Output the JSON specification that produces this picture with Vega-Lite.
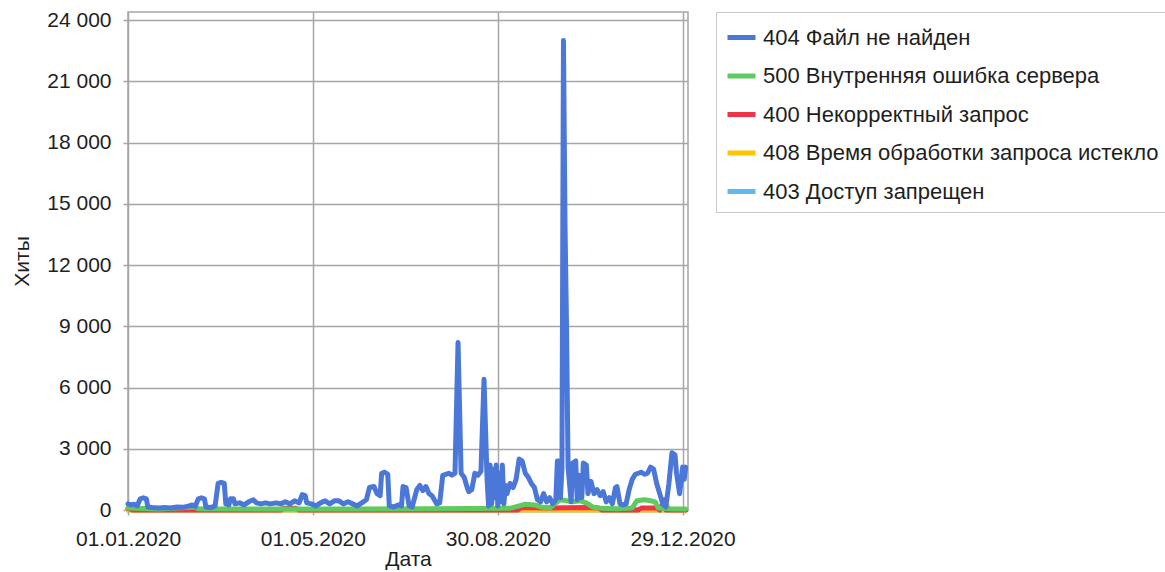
{
  "$schema": "https://vega.github.io/schema/vega-lite/v6.json",
  "width": 560,
  "height": 498,
  "autosize": {"type": "none"},
  "padding": {"left": 128, "top": 12, "right": 477, "bottom": 62},
  "background": "white",
  "config": {
    "font": "Liberation Sans",
    "view": {"stroke": "#a6a6a6", "strokeWidth": 1.5}
  },
  "data": {
    "values": [
      {"d": "2020-01-01", "s": "403 Доступ запрещен", "v": 0},
      {"d": "2020-12-31", "s": "403 Доступ запрещен", "v": 0},
      {"d": "2020-01-01", "s": "408 Время обработки запроса истекло", "v": 0},
      {"d": "2020-12-18", "s": "408 Время обработки запроса истекло", "v": 0},
      {"d": "2020-12-19", "s": "408 Время обработки запроса истекло", "v": 200},
      {"d": "2020-12-20", "s": "408 Время обработки запроса истекло", "v": 0},
      {"d": "2020-12-31", "s": "408 Время обработки запроса истекло", "v": 0},
      {"d": "2020-01-01", "s": "400 Некорректный запрос", "v": 80},
      {"d": "2020-01-04", "s": "400 Некорректный запрос", "v": 0},
      {"d": "2020-04-10", "s": "400 Некорректный запрос", "v": 0},
      {"d": "2020-04-12", "s": "400 Некорректный запрос", "v": 80},
      {"d": "2020-04-20", "s": "400 Некорректный запрос", "v": 80},
      {"d": "2020-04-22", "s": "400 Некорректный запрос", "v": 0},
      {"d": "2020-09-12", "s": "400 Некорректный запрос", "v": 0},
      {"d": "2020-09-14", "s": "400 Некорректный запрос", "v": 120},
      {"d": "2020-10-02", "s": "400 Некорректный запрос", "v": 100},
      {"d": "2020-10-27", "s": "400 Некорректный запрос", "v": 120},
      {"d": "2020-11-04", "s": "400 Некорректный запрос", "v": 100},
      {"d": "2020-11-06", "s": "400 Некорректный запрос", "v": 0},
      {"d": "2020-11-30", "s": "400 Некорректный запрос", "v": 0},
      {"d": "2020-12-02", "s": "400 Некорректный запрос", "v": 100},
      {"d": "2020-12-12", "s": "400 Некорректный запрос", "v": 100},
      {"d": "2020-12-14", "s": "400 Некорректный запрос", "v": 0},
      {"d": "2020-12-17", "s": "400 Некорректный запрос", "v": 500},
      {"d": "2020-12-18", "s": "400 Некорректный запрос", "v": 0},
      {"d": "2020-12-31", "s": "400 Некорректный запрос", "v": 0},
      {"d": "2020-01-01", "s": "500 Внутренняя ошибка сервера", "v": 100},
      {"d": "2020-01-21", "s": "500 Внутренняя ошибка сервера", "v": 50},
      {"d": "2020-02-14", "s": "500 Внутренняя ошибка сервера", "v": 150},
      {"d": "2020-02-16", "s": "500 Внутренняя ошибка сервера", "v": 60},
      {"d": "2020-04-10", "s": "500 Внутренняя ошибка сервера", "v": 50},
      {"d": "2020-05-30", "s": "500 Внутренняя ошибка сервера", "v": 50},
      {"d": "2020-07-19", "s": "500 Внутренняя ошибка сервера", "v": 60},
      {"d": "2020-09-07", "s": "500 Внутренняя ошибка сервера", "v": 80},
      {"d": "2020-09-13", "s": "500 Внутренняя ошибка сервера", "v": 200},
      {"d": "2020-09-17", "s": "500 Внутренняя ошибка сервера", "v": 280},
      {"d": "2020-09-23", "s": "500 Внутренняя ошибка сервера", "v": 250},
      {"d": "2020-09-27", "s": "500 Внутренняя ошибка сервера", "v": 150},
      {"d": "2020-10-03", "s": "500 Внутренняя ошибка сервера", "v": 100},
      {"d": "2020-10-07", "s": "500 Внутренняя ошибка сервера", "v": 350},
      {"d": "2020-10-10", "s": "500 Внутренняя ошибка сервера", "v": 500},
      {"d": "2020-10-14", "s": "500 Внутренняя ошибка сервера", "v": 450},
      {"d": "2020-10-18", "s": "500 Внутренняя ошибка сервера", "v": 400},
      {"d": "2020-10-23", "s": "500 Внутренняя ошибка сервера", "v": 450},
      {"d": "2020-10-27", "s": "500 Внутренняя ошибка сервера", "v": 350},
      {"d": "2020-10-31", "s": "500 Внутренняя ошибка сервера", "v": 150},
      {"d": "2020-11-06", "s": "500 Внутренняя ошибка сервера", "v": 80},
      {"d": "2020-11-16", "s": "500 Внутренняя ошибка сервера", "v": 60},
      {"d": "2020-11-26", "s": "500 Внутренняя ошибка сервера", "v": 100},
      {"d": "2020-11-29", "s": "500 Внутренняя ошибка сервера", "v": 450},
      {"d": "2020-12-04", "s": "500 Внутренняя ошибка сервера", "v": 500},
      {"d": "2020-12-08", "s": "500 Внутренняя ошибка сервера", "v": 450},
      {"d": "2020-12-11", "s": "500 Внутренняя ошибка сервера", "v": 400},
      {"d": "2020-12-13", "s": "500 Внутренняя ошибка сервера", "v": 100},
      {"d": "2020-12-21", "s": "500 Внутренняя ошибка сервера", "v": 60},
      {"d": "2020-12-31", "s": "500 Внутренняя ошибка сервера", "v": 50},
      {"d": "2020-01-01", "s": "404 Файл не найден", "v": 300},
      {"d": "2020-01-03", "s": "404 Файл не найден", "v": 250},
      {"d": "2020-01-05", "s": "404 Файл не найден", "v": 280},
      {"d": "2020-01-07", "s": "404 Файл не найден", "v": 200},
      {"d": "2020-01-09", "s": "404 Файл не найден", "v": 550},
      {"d": "2020-01-11", "s": "404 Файл не найден", "v": 600},
      {"d": "2020-01-13", "s": "404 Файл не найден", "v": 550},
      {"d": "2020-01-14", "s": "404 Файл не найден", "v": 150},
      {"d": "2020-01-17", "s": "404 Файл не найден", "v": 120},
      {"d": "2020-01-21", "s": "404 Файл не найден", "v": 100},
      {"d": "2020-01-25", "s": "404 Файл не найден", "v": 120},
      {"d": "2020-01-29", "s": "404 Файл не найден", "v": 100},
      {"d": "2020-02-02", "s": "404 Файл не найден", "v": 150},
      {"d": "2020-02-06", "s": "404 Файл не найден", "v": 130},
      {"d": "2020-02-10", "s": "404 Файл не найден", "v": 200},
      {"d": "2020-02-12", "s": "404 Файл не найден", "v": 250},
      {"d": "2020-02-14", "s": "404 Файл не найден", "v": 180},
      {"d": "2020-02-16", "s": "404 Файл не найден", "v": 550},
      {"d": "2020-02-18", "s": "404 Файл не найден", "v": 600},
      {"d": "2020-02-20", "s": "404 Файл не найден", "v": 550},
      {"d": "2020-02-21", "s": "404 Файл не найден", "v": 150},
      {"d": "2020-02-24", "s": "404 Файл не найден", "v": 120},
      {"d": "2020-02-27", "s": "404 Файл не найден", "v": 200},
      {"d": "2020-02-29", "s": "404 Файл не найден", "v": 1300},
      {"d": "2020-03-02", "s": "404 Файл не найден", "v": 1350},
      {"d": "2020-03-04", "s": "404 Файл не найден", "v": 1300},
      {"d": "2020-03-05", "s": "404 Файл не найден", "v": 300},
      {"d": "2020-03-07", "s": "404 Файл не найден", "v": 250},
      {"d": "2020-03-08", "s": "404 Файл не найден", "v": 550},
      {"d": "2020-03-10", "s": "404 Файл не найден", "v": 550},
      {"d": "2020-03-11", "s": "404 Файл не найден", "v": 300},
      {"d": "2020-03-14", "s": "404 Файл не найден", "v": 350},
      {"d": "2020-03-17", "s": "404 Файл не найден", "v": 250},
      {"d": "2020-03-20", "s": "404 Файл не найден", "v": 400},
      {"d": "2020-03-23", "s": "404 Файл не найден", "v": 500},
      {"d": "2020-03-25", "s": "404 Файл не найден", "v": 350},
      {"d": "2020-03-28", "s": "404 Файл не найден", "v": 300},
      {"d": "2020-03-31", "s": "404 Файл не найден", "v": 350},
      {"d": "2020-04-03", "s": "404 Файл не найден", "v": 300},
      {"d": "2020-04-07", "s": "404 Файл не найден", "v": 350},
      {"d": "2020-04-10", "s": "404 Файл не найден", "v": 300},
      {"d": "2020-04-13", "s": "404 Файл не найден", "v": 400},
      {"d": "2020-04-16", "s": "404 Файл не найден", "v": 300},
      {"d": "2020-04-19", "s": "404 Файл не найден", "v": 450},
      {"d": "2020-04-22", "s": "404 Файл не найден", "v": 350},
      {"d": "2020-04-24", "s": "404 Файл не найден", "v": 750},
      {"d": "2020-04-26", "s": "404 Файл не найден", "v": 700},
      {"d": "2020-04-27", "s": "404 Файл не найден", "v": 350},
      {"d": "2020-04-30", "s": "404 Файл не найден", "v": 300},
      {"d": "2020-05-03", "s": "404 Файл не найден", "v": 200},
      {"d": "2020-05-06", "s": "404 Файл не найден", "v": 350},
      {"d": "2020-05-09", "s": "404 Файл не найден", "v": 450},
      {"d": "2020-05-12", "s": "404 Файл не найден", "v": 300},
      {"d": "2020-05-15", "s": "404 Файл не найден", "v": 450},
      {"d": "2020-05-18", "s": "404 Файл не найден", "v": 450},
      {"d": "2020-05-21", "s": "404 Файл не найден", "v": 300},
      {"d": "2020-05-24", "s": "404 Файл не найден", "v": 400},
      {"d": "2020-05-27", "s": "404 Файл не найден", "v": 300},
      {"d": "2020-05-30", "s": "404 Файл не найден", "v": 200},
      {"d": "2020-06-02", "s": "404 Файл не найден", "v": 350},
      {"d": "2020-06-05", "s": "404 Файл не найден", "v": 500},
      {"d": "2020-06-07", "s": "404 Файл не найден", "v": 1100},
      {"d": "2020-06-10", "s": "404 Файл не найден", "v": 1150},
      {"d": "2020-06-12", "s": "404 Файл не найден", "v": 800},
      {"d": "2020-06-14", "s": "404 Файл не найден", "v": 700},
      {"d": "2020-06-15", "s": "404 Файл не найден", "v": 1800},
      {"d": "2020-06-17", "s": "404 Файл не найден", "v": 1850},
      {"d": "2020-06-19", "s": "404 Файл не найден", "v": 1750},
      {"d": "2020-06-20", "s": "404 Файл не найден", "v": 200},
      {"d": "2020-06-23", "s": "404 Файл не найден", "v": 150},
      {"d": "2020-06-26", "s": "404 Файл не найден", "v": 250},
      {"d": "2020-06-28", "s": "404 Файл не найден", "v": 200},
      {"d": "2020-06-29", "s": "404 Файл не найден", "v": 1150},
      {"d": "2020-07-01", "s": "404 Файл не найден", "v": 1100},
      {"d": "2020-07-03", "s": "404 Файл не найден", "v": 200},
      {"d": "2020-07-05", "s": "404 Файл не найден", "v": 150},
      {"d": "2020-07-08", "s": "404 Файл не найден", "v": 1000},
      {"d": "2020-07-10", "s": "404 Файл не найден", "v": 1200},
      {"d": "2020-07-12", "s": "404 Файл не найден", "v": 950},
      {"d": "2020-07-14", "s": "404 Файл не найден", "v": 1150},
      {"d": "2020-07-16", "s": "404 Файл не найден", "v": 800},
      {"d": "2020-07-18", "s": "404 Файл не найден", "v": 700},
      {"d": "2020-07-21", "s": "404 Файл не найден", "v": 300},
      {"d": "2020-07-23", "s": "404 Файл не найден", "v": 350},
      {"d": "2020-07-25", "s": "404 Файл не найден", "v": 1700},
      {"d": "2020-07-27", "s": "404 Файл не найден", "v": 1750},
      {"d": "2020-07-29", "s": "404 Файл не найден", "v": 1800},
      {"d": "2020-07-31", "s": "404 Файл не найден", "v": 1700},
      {"d": "2020-08-02", "s": "404 Файл не найден", "v": 1800},
      {"d": "2020-08-04", "s": "404 Файл не найден", "v": 8200},
      {"d": "2020-08-06", "s": "404 Файл не найден", "v": 1800},
      {"d": "2020-08-08", "s": "404 Файл не найден", "v": 1600},
      {"d": "2020-08-10", "s": "404 Файл не найден", "v": 1100},
      {"d": "2020-08-11", "s": "404 Файл не найден", "v": 900},
      {"d": "2020-08-13", "s": "404 Файл не найден", "v": 1000},
      {"d": "2020-08-15", "s": "404 Файл не найден", "v": 1800},
      {"d": "2020-08-17", "s": "404 Файл не найден", "v": 1700},
      {"d": "2020-08-19", "s": "404 Файл не найден", "v": 1900},
      {"d": "2020-08-21", "s": "404 Файл не найден", "v": 6400},
      {"d": "2020-08-23", "s": "404 Файл не найден", "v": 1500},
      {"d": "2020-08-24", "s": "404 Файл не найден", "v": 200},
      {"d": "2020-08-25", "s": "404 Файл не найден", "v": 2200},
      {"d": "2020-08-26", "s": "404 Файл не найден", "v": 300},
      {"d": "2020-08-27", "s": "404 Файл не найден", "v": 2000},
      {"d": "2020-08-28", "s": "404 Файл не найден", "v": 600},
      {"d": "2020-08-29", "s": "404 Файл не найден", "v": 2200},
      {"d": "2020-08-30", "s": "404 Файл не найден", "v": 200},
      {"d": "2020-08-31", "s": "404 Файл не найден", "v": 1800},
      {"d": "2020-09-01", "s": "404 Файл не найден", "v": 400},
      {"d": "2020-09-02", "s": "404 Файл не найден", "v": 2200},
      {"d": "2020-09-03", "s": "404 Файл не найден", "v": 300},
      {"d": "2020-09-04", "s": "404 Файл не найден", "v": 1200},
      {"d": "2020-09-05", "s": "404 Файл не найден", "v": 800},
      {"d": "2020-09-07", "s": "404 Файл не найден", "v": 1300},
      {"d": "2020-09-09", "s": "404 Файл не найден", "v": 1100},
      {"d": "2020-09-11", "s": "404 Файл не найден", "v": 1500},
      {"d": "2020-09-13", "s": "404 Файл не найден", "v": 2500},
      {"d": "2020-09-15", "s": "404 Файл не найден", "v": 2400},
      {"d": "2020-09-17", "s": "404 Файл не найден", "v": 1800},
      {"d": "2020-09-19", "s": "404 Файл не найден", "v": 1600},
      {"d": "2020-09-21", "s": "404 Файл не найден", "v": 1300},
      {"d": "2020-09-23", "s": "404 Файл не найден", "v": 1100},
      {"d": "2020-09-25", "s": "404 Файл не найден", "v": 500},
      {"d": "2020-09-27", "s": "404 Файл не найден", "v": 400},
      {"d": "2020-09-29", "s": "404 Файл не найден", "v": 800},
      {"d": "2020-10-01", "s": "404 Файл не найден", "v": 400},
      {"d": "2020-10-03", "s": "404 Файл не найден", "v": 600},
      {"d": "2020-10-05", "s": "404 Файл не найден", "v": 300},
      {"d": "2020-10-07", "s": "404 Файл не найден", "v": 500},
      {"d": "2020-10-08", "s": "404 Файл не найден", "v": 2400},
      {"d": "2020-10-09", "s": "404 Файл не найден", "v": 2400},
      {"d": "2020-10-10", "s": "404 Файл не найден", "v": 600},
      {"d": "2020-10-11", "s": "404 Файл не найден", "v": 2000},
      {"d": "2020-10-12", "s": "404 Файл не найден", "v": 23000},
      {"d": "2020-10-13", "s": "404 Файл не найден", "v": 14000},
      {"d": "2020-10-14", "s": "404 Файл не найден", "v": 9000},
      {"d": "2020-10-15", "s": "404 Файл не найден", "v": 2100},
      {"d": "2020-10-17", "s": "404 Файл не найден", "v": 400},
      {"d": "2020-10-18", "s": "404 Файл не найден", "v": 2300},
      {"d": "2020-10-20", "s": "404 Файл не найден", "v": 2400},
      {"d": "2020-10-21", "s": "404 Файл не найден", "v": 500},
      {"d": "2020-10-22", "s": "404 Файл не найден", "v": 1700},
      {"d": "2020-10-24", "s": "404 Файл не найден", "v": 600},
      {"d": "2020-10-25", "s": "404 Файл не найден", "v": 2300},
      {"d": "2020-10-27", "s": "404 Файл не найден", "v": 2200},
      {"d": "2020-10-28", "s": "404 Файл не найден", "v": 800},
      {"d": "2020-10-30", "s": "404 Файл не найден", "v": 1400},
      {"d": "2020-11-01", "s": "404 Файл не найден", "v": 800},
      {"d": "2020-11-03", "s": "404 Файл не найден", "v": 1000},
      {"d": "2020-11-05", "s": "404 Файл не найден", "v": 700},
      {"d": "2020-11-07", "s": "404 Файл не найден", "v": 900},
      {"d": "2020-11-09", "s": "404 Файл не найден", "v": 400},
      {"d": "2020-11-11", "s": "404 Файл не найден", "v": 600},
      {"d": "2020-11-13", "s": "404 Файл не найден", "v": 300},
      {"d": "2020-11-15", "s": "404 Файл не найден", "v": 1100},
      {"d": "2020-11-16", "s": "404 Файл не найден", "v": 1150},
      {"d": "2020-11-18", "s": "404 Файл не найден", "v": 300},
      {"d": "2020-11-20", "s": "404 Файл не найден", "v": 250},
      {"d": "2020-11-22", "s": "404 Файл не найден", "v": 300},
      {"d": "2020-11-24", "s": "404 Файл не найден", "v": 1000},
      {"d": "2020-11-26", "s": "404 Файл не найден", "v": 1500},
      {"d": "2020-11-28", "s": "404 Файл не найден", "v": 1750},
      {"d": "2020-11-30", "s": "404 Файл не найден", "v": 1800},
      {"d": "2020-12-02", "s": "404 Файл не найден", "v": 1850},
      {"d": "2020-12-04", "s": "404 Файл не найден", "v": 1750},
      {"d": "2020-12-06", "s": "404 Файл не найден", "v": 1800},
      {"d": "2020-12-08", "s": "404 Файл не найден", "v": 2100},
      {"d": "2020-12-10", "s": "404 Файл не найден", "v": 2000},
      {"d": "2020-12-12", "s": "404 Файл не найден", "v": 1300},
      {"d": "2020-12-14", "s": "404 Файл не найден", "v": 800},
      {"d": "2020-12-16", "s": "404 Файл не найден", "v": 300},
      {"d": "2020-12-18", "s": "404 Файл не найден", "v": 150},
      {"d": "2020-12-20", "s": "404 Файл не найден", "v": 1300},
      {"d": "2020-12-22", "s": "404 Файл не найден", "v": 2800},
      {"d": "2020-12-24", "s": "404 Файл не найден", "v": 2700},
      {"d": "2020-12-25", "s": "404 Файл не найден", "v": 1800},
      {"d": "2020-12-27", "s": "404 Файл не найден", "v": 800},
      {"d": "2020-12-29", "s": "404 Файл не найден", "v": 2100},
      {"d": "2020-12-30", "s": "404 Файл не найден", "v": 1500},
      {"d": "2020-12-31", "s": "404 Файл не найден", "v": 2100}
    ]
  },
  "mark": {"type": "line", "strokeWidth": 5, "strokeJoin": "round", "strokeCap": "round"},
  "encoding": {
    "x": {
      "field": "d",
      "type": "temporal",
      "scale": {
        "type": "utc",
        "domain": [
          {"year": 2020, "month": 1, "date": 1, "utc": true},
          {"year": 2021, "month": 1, "date": 1, "hours": 12, "utc": true}
        ]
      },
      "axis": {
        "values": [
          {"year": 2020, "month": 1, "date": 1, "utc": true},
          {"year": 2020, "month": 5, "date": 1, "utc": true},
          {"year": 2020, "month": 8, "date": 30, "utc": true},
          {"year": 2020, "month": 12, "date": 29, "utc": true}
        ],
        "format": "%d.%m.%Y",
        "title": "Дата",
        "grid": true,
        "gridColor": "#a6a6a6",
        "gridWidth": 1.5,
        "domain": false,
        "ticks": true,
        "tickColor": "#a6a6a6",
        "tickWidth": 1.5,
        "tickSize": 5,
        "labelPadding": 13,
        "labelFontSize": 21,
        "labelColor": "#1e1e1e",
        "labelFlush": false,
        "labelOverlap": false,
        "titleFontSize": 21,
        "titleFontWeight": "normal",
        "titleColor": "#1e1e1e",
        "titleBaseline": "alphabetic",
        "titleAlign": "center",
        "titleX": 280,
        "titleY": 55
      }
    },
    "y": {
      "field": "v",
      "type": "quantitative",
      "scale": {"domain": [0, 24392], "nice": false, "zero": true},
      "axis": {
        "values": [0, 3000, 6000, 9000, 12000, 15000, 18000, 21000, 24000],
        "labelExpr": "replace(format(datum.value, ',d'), ',', ' ')",
        "title": "Хиты",
        "grid": true,
        "gridColor": "#a6a6a6",
        "gridWidth": 1.5,
        "domain": false,
        "tickColor": "#a6a6a6",
        "tickWidth": 1.5,
        "tickSize": 5,
        "labelPadding": 12,
        "labelFontSize": 21,
        "labelColor": "#1e1e1e",
        "labelFlush": false,
        "labelOverlap": false,
        "titleFontSize": 21,
        "titleFontWeight": "normal",
        "titleColor": "#1e1e1e",
        "titleBaseline": "alphabetic",
        "titleAlign": "center",
        "titleAngle": 270,
        "titleX": -100,
        "titleY": 249
      }
    },
    "color": {
      "field": "s",
      "type": "nominal",
      "sort": null,
      "scale": {
        "domain": [
          "404 Файл не найден",
          "500 Внутренняя ошибка сервера",
          "400 Некорректный запрос",
          "408 Время обработки запроса истекло",
          "403 Доступ запрещен"
        ],
        "range": ["#4b78d8", "#5fca5f", "#ee3448", "#ffc400", "#5db9ee"]
      },
      "legend": {
        "title": null,
        "orient": "none",
        "legendX": 588,
        "legendY": 0,
        "direction": "vertical",
        "strokeColor": "#c8c8c8",
        "fillColor": "white",
        "padding": 9,
        "symbolType": "stroke",
        "symbolSize": 784,
        "symbolStrokeWidth": 5,
        "labelOffset": 5,
        "labelFontSize": 22,
        "labelColor": "#1e1e1e",
        "labelLimit": 600,
        "rowPadding": 10.5
      }
    }
  }
}
